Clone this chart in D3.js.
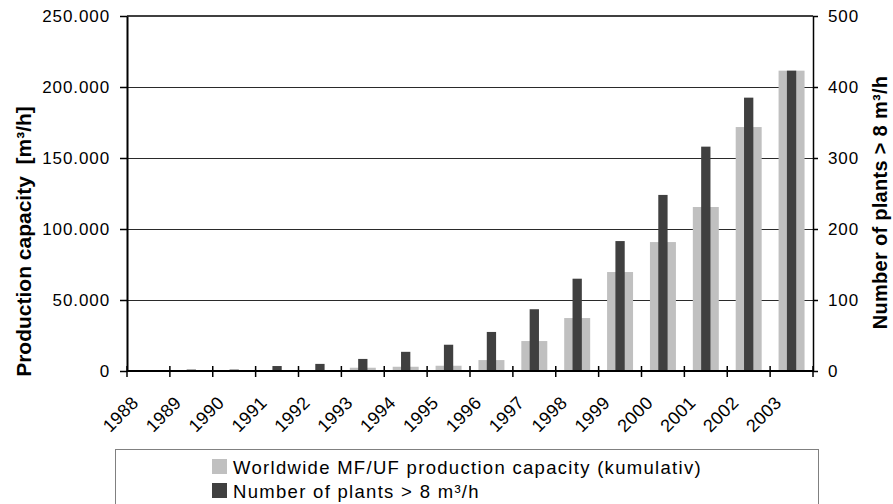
<!DOCTYPE html>
<html>
<head>
<meta charset="utf-8">
<script src="https://cdn.jsdelivr.net/npm/d3@7"></script>
<style>
  body { margin: 0; background: #fff; }
  text { font-family: Arial, "Liberation Sans", sans-serif; fill: #000; }
</style>
</head>
<body>
<div id="chart"></div>
<script>
// data
const years = ["1988", "1989", "1990", "1991", "1992", "1993", "1994", "1995",
               "1996", "1997", "1998", "1999", "2000", "2001", "2002", "2003"];
const capacity = [0, 100, 200, 300, 600, 2300, 3000, 3700,
                  7700, 21100, 37300, 69700, 90800, 115500, 171800, 211500];
const plants = [0, 2, 2, 7, 10, 17, 27, 37, 55, 87, 130, 183, 248, 316, 385, 423];
const capacityTicks = [0, 50000, 100000, 150000, 200000, 250000];
const plantTicks = [0, 100, 200, 300, 400, 500];
const legendLabels = ["Worldwide MF/UF production capacity (kumulativ)", "Number of plants > 8 m³/h"];
const leftTitle = "Production capacity  [m³/h]";
const rightTitle = "Number of plants > 8 m³/h";

const width = 893, height = 504;
const margin = { top: 16, right: 80, bottom: 133, left: 127 };
const x0 = margin.left, x1 = width - margin.right;
const y0 = height - margin.bottom, y1 = margin.top;

const svg = d3.select('#chart').append('svg')
  .attr('width', width)
  .attr('height', height);

const x = d3.scaleBand().domain(years).range([x0, x1]);
const yL = d3.scaleLinear().domain([0, 250000]).range([y0, y1]);
const yR = d3.scaleLinear().domain([0, 500]).range([y0, y1]);

const de = d3.formatLocale({ decimal: ",", thousands: ".", grouping: [3], currency: ["", ""] });
const fmt = de.format(",");

// gridlines
svg.append('g')
  .selectAll('line')
  .data(capacityTicks.slice(1, -1))
  .join('line')
  .attr('x1', x0).attr('x2', x1)
  .attr('y1', d => Math.round(yL(d)) + 0.5).attr('y2', d => Math.round(yL(d)) + 0.5)
  .attr('stroke', '#2a2a2a')
  .attr('stroke-width', 1);

const bw = x.bandwidth();
const lightW = bw * 0.606, darkW = bw * 0.217;

svg.append('g')
  .selectAll('rect')
  .data(years)
  .join('rect')
  .attr('x', (d) => x(d) + bw / 2 - lightW / 2)
  .attr('y', (d, i) => yL(capacity[i]))
  .attr('width', lightW)
  .attr('height', (d, i) => y0 - yL(capacity[i]))
  .attr('fill', '#c0c0c0');

svg.append('g')
  .selectAll('rect')
  .data(years)
  .join('rect')
  .attr('x', (d) => x(d) + bw / 2 - darkW / 2)
  .attr('y', (d, i) => yR(plants[i]))
  .attr('width', darkW)
  .attr('height', (d, i) => y0 - yR(plants[i]))
  .attr('fill', '#404040');

// top border
svg.append('line')
  .attr('x1', x0).attr('x2', x1)
  .attr('y1', y1).attr('y2', y1)
  .attr('stroke', '#000').attr('stroke-width', 1.5);

// left axis
const leftAxis = svg.append('g')
  .attr('transform', `translate(${x0},0)`)
  .call(d3.axisLeft(yL).tickValues(capacityTicks).tickFormat(fmt).tickSize(7).tickPadding(10).tickSizeOuter(0));
leftAxis.select('.domain').attr('stroke', '#000').attr('stroke-width', 2);
leftAxis.selectAll('.tick line').attr('stroke', '#000').attr('stroke-width', 1.5);
leftAxis.selectAll('text')
  .attr('fill', '#000')
  .style('font-size', '17px')
  .style('letter-spacing', '0.9px')
  .style('font-family', 'Arial, "Liberation Sans", sans-serif');

// right axis
const rightAxis = svg.append('g')
  .attr('transform', `translate(${x1},0)`)
  .call(d3.axisRight(yR).tickValues(plantTicks).tickSize(5).tickPadding(10).tickSizeOuter(0));
rightAxis.select('.domain').attr('stroke', '#000').attr('stroke-width', 1.5);
rightAxis.selectAll('.tick line').attr('stroke', '#000').attr('stroke-width', 1.5);
rightAxis.selectAll('text')
  .attr('fill', '#000')
  .style('font-size', '17px')
  .style('letter-spacing', '0.9px')
  .style('font-family', 'Arial, "Liberation Sans", sans-serif');

// category axis: ticks cross the line at band edges
const xAxis = svg.append('g');
xAxis.append('line')
  .attr('x1', x0).attr('x2', x1)
  .attr('y1', y0).attr('y2', y0)
  .attr('stroke', '#000').attr('stroke-width', 2);
xAxis.selectAll('line.tk')
  .data(years.map(d => x(d)).concat([x1]))
  .join('line')
  .attr('class', 'tk')
  .attr('x1', d => d).attr('x2', d => d)
  .attr('y1', y0 - 5).attr('y2', y0 + 6)
  .attr('stroke', '#000').attr('stroke-width', 1.5);
xAxis.selectAll('text')
  .data(years)
  .join('text')
  .attr('transform', d => `translate(${x(d) + bw / 2 - 9},${y0 + 33}) rotate(-45)`)
  .attr('text-anchor', 'end')
  .style('font-size', '18px')
  .style('letter-spacing', '0.3px')
  .text(d => d);

// axis titles
svg.append('text')
  .attr('transform', `translate(31,${(y0 + y1) / 2 + 48}) rotate(-90)`)
  .attr('text-anchor', 'middle')
  .style('font-size', '21px')
  .style('font-weight', 'bold')
  .style('white-space', 'pre')
  .text(leftTitle);

svg.append('text')
  .attr('transform', `translate(887,${(y0 + y1) / 2 + 9}) rotate(-90)`)
  .attr('text-anchor', 'middle')
  .style('font-size', '20px')
  .style('font-weight', 'bold')
  .style('letter-spacing', '0.3px')
  .text(rightTitle);

// legend
const legend = svg.append('g').attr('transform', 'translate(115,449)');
legend.append('rect')
  .attr('x', 0.5).attr('y', 0.5)
  .attr('width', 703).attr('height', 70)
  .attr('fill', '#fff')
  .attr('stroke', '#808080')
  .attr('stroke-width', 1);
const colors = ['#c0c0c0', '#404040'];
legendLabels.forEach((lab, i) => {
  const row = legend.append('g').attr('transform', `translate(97,${10 + i * 24})`);
  row.append('rect')
    .attr('width', 15).attr('height', 15)
    .attr('fill', colors[i]);
  row.append('text')
    .attr('x', 21).attr('y', 14.5)
    .style('font-size', '18.5px')
    .style('letter-spacing', '1.3px')
    .text(lab);
});
</script>
</body>
</html>
